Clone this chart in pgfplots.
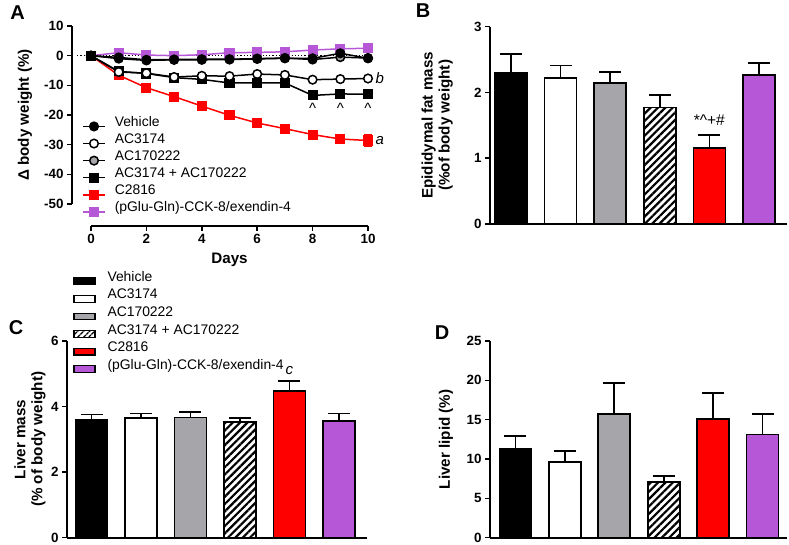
\documentclass[border=0pt]{standalone}
\usepackage{fontspec}
\setmainfont{Liberation Sans}
\usepackage{pgfplots}
\pgfplotsset{compat=1.18}
\usetikzlibrary{patterns.meta}

\definecolor{cpurple}{HTML}{B557D6}
\definecolor{cgray}{HTML}{A5A5AA}
\definecolor{cred}{HTML}{FF0000}

\pgfplotsset{
  prism/.style={scale only axis, axis x line*=bottom, axis y line*=left,
    tick align=outside, major tick length=5pt,
    axis line style={line width=1.8pt, black},
    major tick style={line width=1.5pt, black},
    tick label style={font=\fontsize{13.4}{14}\selectfont\bfseries},
    label style={font=\fontsize{15.2}{17}\selectfont\bfseries},
    /pgf/number format/assume math mode=true, clip=false},
  barax/.style={prism, xtick=\empty, ybar, bar width=32pt, /pgf/bar shift=0pt, ymin=0},
  bb/.style={draw=black, line width=1.7pt,
    error bars/y dir=plus, error bars/y explicit,
    error bars/error bar style={line width=1.7pt, black},
    error bars/error mark options={rotate=90, mark size=11pt, line width=1.7pt, black}},
  hatch/.style={pattern={Lines[angle=45,distance=5.2pt,line width=2.2pt]}, pattern color=black},
  ser/.style={line width=1.5pt, mark size=4.3pt, mark options={line width=1.5pt, solid}},
}

\begin{document}
\begin{tikzpicture}
\useasboundingbox (0pt,0pt) rectangle (789pt,545pt);

% ---------- A: body weight ----------
\begin{axis}[prism, at={(72pt,341pt)}, anchor=south west,
  width=296pt, height=178pt,
  xmin=-0.686, xmax=10, ymin=-50, ymax=10,
  axis x line=none, ytick={-50,-40,...,10},
  ylabel={Δ body weight (\%)},
  ylabel style={at={(axis description cs:-0.159,0.5)}, anchor=center},
  reverse legend,
  legend image code/.code={\draw[mark repeat=2,mark phase=2,#1] plot coordinates {(0pt,0pt) (11pt,0pt) (22pt,0pt)};},
  legend style={at={(0.034,0.493)}, anchor=north west, draw=none, fill=none,
    inner sep=0pt, row sep=2.8pt, column sep=9pt,
    nodes={inner sep=0pt, text height=10pt, text depth=3pt, anchor=base west,
      font=\fontsize{13.9}{15}\selectfont}},
  legend cell align=left]
\addplot[forget plot, black, dotted, line width=1.2pt] coordinates {(-0.5,0) (10,0)};
% (pGlu-Gln)-CCK-8/exendin-4
\addplot[ser, cpurple, mark=square*, mark options={fill=cpurple}] coordinates
 {(0,0) (1,1.0) (2,0.2) (3,0.0) (4,0.3) (5,1.0) (6,1.1) (7,1.3) (8,1.9) (9,2.3) (10,2.5)};
\addlegendentry{(pGlu-Gln)-CCK-8/exendin-4}
% C2816
\addplot[ser, cred, mark=square*, mark options={fill=cred},
  error bars/y dir=both, error bars/y explicit,
  error bars/error bar style={line width=1.5pt, cred},
  error bars/error mark options={rotate=90, mark size=4pt, line width=1.5pt, cred}] coordinates
 {(0,0) (1,-6.6) (2,-10.8) (3,-13.8) (4,-17.0) (5,-20.1) (6,-22.7) (7,-24.6) (8,-26.6) (9,-28.1) (10,-28.6) +- (0,1.8)};
\addlegendentry{C2816}
% AC3174 + AC170222
\addplot[ser, black, mark=square*, mark options={fill=black}] coordinates
 {(0,0) (1,-5.3) (2,-6.0) (3,-7.4) (4,-8.0) (5,-9.2) (6,-9.2) (7,-9.2) (8,-13.4) (9,-12.9) (10,-13.0)};
\addlegendentry{AC3174 + AC170222}
% AC170222
\addplot[ser, black, mark=*, mark options={fill=cgray}] coordinates
 {(0,0) (1,-0.6) (2,-1.4) (3,-1.3) (4,-1.2) (5,-1.2) (6,-1.0) (7,-0.8) (8,-1.3) (9,-0.5) (10,-0.8)};
\addlegendentry{AC170222}
% AC3174
\addplot[ser, black, mark=*, mark options={fill=white}] coordinates
 {(0,0) (1,-5.5) (2,-5.9) (3,-7.2) (4,-6.8) (5,-6.9) (6,-6.2) (7,-6.5) (8,-8.1) (9,-7.9) (10,-7.7)};
\addlegendentry{AC3174}
% Vehicle
\addplot[ser, black, mark=*, mark options={fill=black}] coordinates
 {(0,0) (1,-1.0) (2,-1.6) (3,-1.4) (4,-1.4) (5,-1.3) (6,-1.1) (7,-0.9) (8,-0.9) (9,0.8) (10,-0.9)};
\addlegendentry{Vehicle}
\node[font=\fontsize{15}{15}\selectfont] at (axis cs:8,-17.6) {\textasciicircum};
\node[font=\fontsize{15}{15}\selectfont] at (axis cs:9,-17.6) {\textasciicircum};
\node[font=\fontsize{15}{15}\selectfont] at (axis cs:10,-17.6) {\textasciicircum};
\node[anchor=west, font=\fontsize{15}{15}\selectfont\itshape] at (axis cs:10.15,-7.5) {b};
\node[anchor=west, font=\fontsize{15}{15}\selectfont\itshape] at (axis cs:10.15,-28.6) {a};
\end{axis}
% A: offset x axis
\begin{axis}[prism, at={(91pt,319pt)}, anchor=south west,
  width=277pt, height=1pt, xmin=0, xmax=10, ymin=0, ymax=1,
  axis y line=none, xtick={0,2,...,10},
  xlabel={Days},
  xlabel style={at={(axis description cs:0.5,0)}, anchor=center, yshift=-34pt}]
\addplot[draw=none] coordinates {(0,0)};
\end{axis}

% ---------- B: epididymal fat ----------
\begin{axis}[barax, at={(490pt,321pt)}, anchor=south west,
  width=297pt, height=197.3pt,
  xmin=-0.423, xmax=5.565, ymax=3, ytick={0,1,2,3},
  ylabel={Epididymal fat mass\\(\%of body weight)},
  ylabel style={at={(axis description cs:-0.178,0.5)}, anchor=center, align=center}]
\addplot[bb, fill=black] coordinates {(0,2.30) +- (0,0.29)};
\addplot[bb, fill=white] coordinates {(1,2.22) +- (0,0.19)};
\addplot[bb, fill=cgray] coordinates {(2,2.14) +- (0,0.17)};
\addplot[bb, hatch] coordinates {(3,1.77) +- (0,0.19)};
\addplot[bb, fill=cred] coordinates {(4,1.16) +- (0,0.19)};
\addplot[bb, fill=cpurple] coordinates {(5,2.27) +- (0,0.18)};
\node[font=\fontsize{15.5}{15.5}\selectfont] at (axis cs:4,1.58) {*\textasciicircum+\#};
\end{axis}

% ---------- C: liver mass ----------
\begin{axis}[barax, at={(67pt,7.3pt)}, anchor=south west,
  width=300pt, height=196.7pt,
  xmin=-0.495, xmax=5.566, ymax=6, ytick={0,2,4,6},
  ylabel={Liver mass\\(\% of body weight)},
  ylabel style={at={(axis description cs:-0.123,0.5)}, anchor=center, align=center},
  legend image code/.code={\draw[#1, line width=1.3pt] (0pt,-3.3pt) rectangle (21pt,3.3pt);},
  legend style={at={(0.02,1.355)}, anchor=north west, draw=none, fill=none,
    inner sep=0pt, row sep=3.6pt, column sep=12pt,
    nodes={inner sep=0pt, text height=10pt, text depth=3pt, anchor=base west,
      font=\fontsize{13.9}{15}\selectfont}},
  legend cell align=left]
\addlegendimage{draw=black, fill=black}
\addlegendentry{Vehicle}
\addlegendimage{draw=black, fill=white}
\addlegendentry{AC3174}
\addlegendimage{draw=black, fill=cgray}
\addlegendentry{AC170222}
\addlegendimage{draw=black, pattern={Lines[angle=45,distance=4pt,line width=1.6pt]}, pattern color=black}
\addlegendentry{AC3174 + AC170222}
\addlegendimage{draw=black, fill=cred}
\addlegendentry{C2816}
\addlegendimage{draw=black, fill=cpurple}
\addlegendentry{(pGlu-Gln)-CCK-8/exendin-4}
\addplot[bb, fill=black, forget plot] coordinates {(0,3.59) +- (0,0.17)};
\addplot[bb, fill=white, forget plot] coordinates {(1,3.66) +- (0,0.13)};
\addplot[bb, fill=cgray, forget plot] coordinates {(2,3.67) +- (0,0.17)};
\addplot[bb, hatch, forget plot] coordinates {(3,3.52) +- (0,0.14)};
\addplot[bb, fill=cred, forget plot] coordinates {(4,4.48) +- (0,0.30)};
\addplot[bb, fill=cpurple, forget plot] coordinates {(5,3.57) +- (0,0.22)};
\node[font=\fontsize{15}{15}\selectfont\itshape] at (axis cs:4,5.11) {c};
\end{axis}

% ---------- D: liver lipid ----------
\begin{axis}[barax, at={(490pt,7.3pt)}, anchor=south west,
  width=297pt, height=196.7pt,
  xmin=-0.516, xmax=5.496, ymax=25, ytick={0,5,...,25},
  ylabel={Liver lipid (\%)},
  ylabel style={at={(axis description cs:-0.148,0.5)}, anchor=center}]
\addplot[bb, fill=black] coordinates {(0,11.3) +- (0,1.6)};
\addplot[bb, fill=white] coordinates {(1,9.6) +- (0,1.4)};
\addplot[bb, fill=cgray] coordinates {(2,15.7) +- (0,4.0)};
\addplot[bb, hatch] coordinates {(3,7.1) +- (0,0.7)};
\addplot[bb, fill=cred] coordinates {(4,15.1) +- (0,3.3)};
\addplot[bb, fill=cpurple] coordinates {(5,13.1) +- (0,2.6)};
\end{axis}

% panel letters
\node[font=\fontsize{20}{20}\selectfont\bfseries] at (17.5pt,532pt) {A};
\node[font=\fontsize{20}{20}\selectfont\bfseries] at (423pt,534pt) {B};
\node[font=\fontsize{20}{20}\selectfont\bfseries] at (16pt,217pt) {C};
\node[font=\fontsize{20}{20}\selectfont\bfseries] at (442pt,212pt) {D};
\end{tikzpicture}
\end{document}
